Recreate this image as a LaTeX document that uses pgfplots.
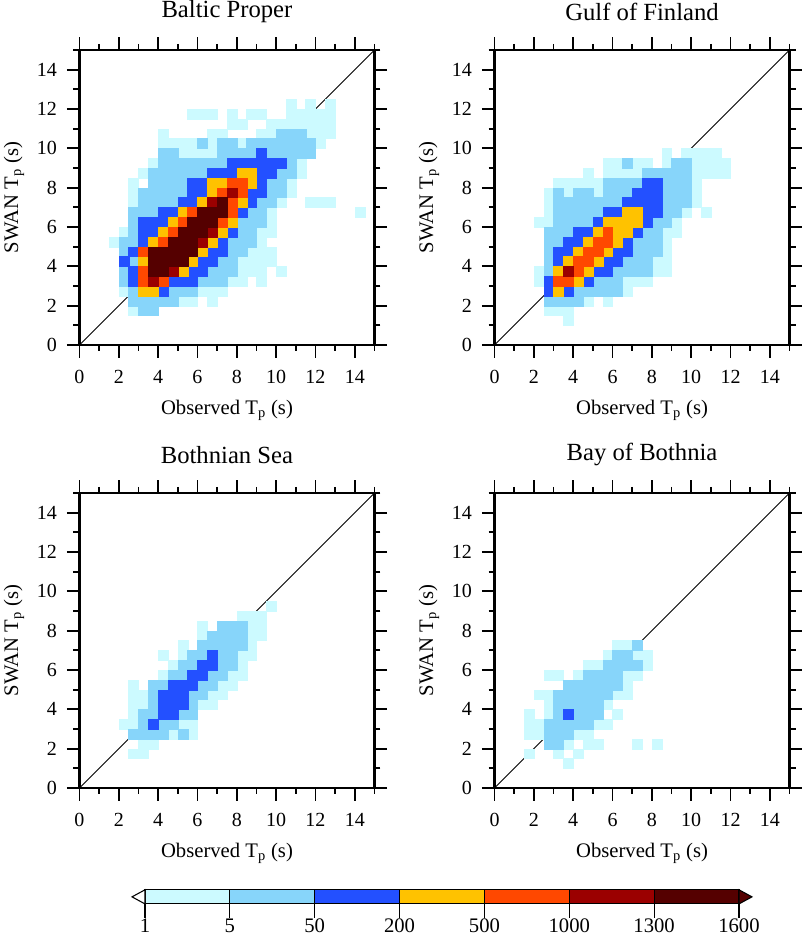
\documentclass[border=0pt]{standalone}
\usepackage{fontspec}
\setmainfont{Liberation Serif}
\usepackage{pgfplots}
\usepackage{pgfplotstable}
\pgfplotsset{compat=1.18}
\definecolor{c1}{RGB}{204,250,255}
\definecolor{c2}{RGB}{135,213,250}
\definecolor{c3}{RGB}{35,80,255}
\definecolor{c4}{RGB}{255,194,0}
\definecolor{c5}{RGB}{255,72,0}
\definecolor{c6}{RGB}{155,0,0}
\definecolor{c7}{RGB}{85,0,0}

% i = x bin index (0.5 s bins), j = y bin index, c = count class (1..7)
\pgfplotstableread[row sep=\\]{
i j c\\
21 24 1\\ 23 24 1\\ 25 24 1\\
11 23 1\\ 12 23 1\\ 13 23 1\\ 15 23 1\\ 17 23 1\\ 18 23 1\\ 21 23 1\\ 22 23 1\\ 23 23 1\\ 24 23 1\\ 25 23 1\\
15 22 1\\ 16 22 1\\ 19 22 1\\ 20 22 1\\ 21 22 1\\ 22 22 1\\ 23 22 1\\ 24 22 1\\ 25 22 1\\
8 21 1\\ 13 21 1\\ 14 21 1\\ 18 21 1\\ 19 21 1\\ 20 21 2\\ 21 21 2\\ 22 21 2\\ 23 21 1\\ 24 21 1\\ 25 21 1\\
8 20 1\\ 9 20 1\\ 10 20 1\\ 11 20 1\\ 12 20 2\\ 13 20 1\\ 14 20 2\\ 15 20 2\\ 16 20 1\\ 17 20 2\\ 18 20 2\\ 19 20 2\\ 20 20 2\\ 21 20 2\\ 22 20 2\\ 23 20 2\\ 24 20 1\\
8 19 2\\ 9 19 2\\ 10 19 1\\ 11 19 1\\ 12 19 1\\ 13 19 1\\ 14 19 2\\ 15 19 2\\ 16 19 2\\ 17 19 2\\ 18 19 3\\ 19 19 2\\ 20 19 2\\ 21 19 2\\ 22 19 2\\ 23 19 2\\
7 18 1\\ 8 18 2\\ 9 18 2\\ 10 18 2\\ 11 18 2\\ 12 18 2\\ 13 18 2\\ 14 18 2\\ 15 18 3\\ 16 18 3\\ 17 18 3\\ 18 18 3\\ 19 18 3\\ 20 18 3\\ 21 18 2\\ 22 18 1\\
6 17 1\\ 7 17 2\\ 8 17 2\\ 9 17 2\\ 10 17 2\\ 11 17 2\\ 12 17 2\\ 13 17 3\\ 14 17 3\\ 15 17 3\\ 16 17 4\\ 17 17 4\\ 18 17 3\\ 19 17 3\\ 20 17 2\\ 21 17 2\\ 22 17 1\\
5 16 1\\ 7 16 2\\ 8 16 2\\ 9 16 2\\ 10 16 2\\ 11 16 3\\ 12 16 3\\ 13 16 4\\ 14 16 4\\ 15 16 5\\ 16 16 5\\ 17 16 4\\ 18 16 3\\ 19 16 2\\ 20 16 2\\ 21 16 1\\
5 15 1\\ 6 15 2\\ 7 15 2\\ 8 15 2\\ 9 15 2\\ 10 15 2\\ 11 15 3\\ 12 15 3\\ 13 15 4\\ 14 15 5\\ 15 15 6\\ 16 15 5\\ 17 15 3\\ 18 15 3\\ 19 15 2\\ 20 15 2\\ 21 15 1\\
5 14 1\\ 6 14 2\\ 7 14 2\\ 8 14 2\\ 9 14 2\\ 10 14 3\\ 11 14 3\\ 12 14 4\\ 13 14 6\\ 14 14 7\\ 15 14 5\\ 16 14 4\\ 17 14 3\\ 18 14 2\\ 19 14 2\\ 20 14 1\\ 23 14 1\\ 24 14 1\\ 25 14 1\\
5 13 2\\ 6 13 2\\ 7 13 2\\ 8 13 3\\ 9 13 3\\ 10 13 4\\ 11 13 5\\ 12 13 7\\ 13 13 7\\ 14 13 7\\ 15 13 5\\ 16 13 3\\ 17 13 2\\ 18 13 2\\ 19 13 1\\ 28 13 1\\
5 12 2\\ 6 12 3\\ 7 12 3\\ 8 12 3\\ 9 12 4\\ 10 12 5\\ 11 12 7\\ 12 12 7\\ 13 12 7\\ 14 12 5\\ 15 12 4\\ 16 12 2\\ 17 12 2\\ 18 12 2\\ 19 12 1\\
4 11 1\\ 5 11 2\\ 6 11 3\\ 7 11 3\\ 8 11 4\\ 9 11 5\\ 10 11 7\\ 11 11 7\\ 12 11 7\\ 13 11 6\\ 14 11 4\\ 15 11 3\\ 16 11 2\\ 17 11 2\\ 18 11 1\\ 19 11 1\\
3 10 1\\ 4 10 2\\ 5 10 2\\ 6 10 3\\ 7 10 4\\ 8 10 5\\ 9 10 7\\ 10 10 7\\ 11 10 7\\ 12 10 6\\ 13 10 4\\ 14 10 3\\ 15 10 2\\ 16 10 2\\ 17 10 2\\ 18 10 1\\
4 9 2\\ 5 9 3\\ 6 9 5\\ 7 9 7\\ 8 9 7\\ 9 9 7\\ 10 9 7\\ 11 9 7\\ 12 9 4\\ 13 9 3\\ 14 9 3\\ 15 9 2\\ 16 9 2\\ 17 9 1\\ 18 9 1\\ 19 9 1\\
4 8 3\\ 5 8 2\\ 6 8 4\\ 7 8 7\\ 8 8 7\\ 9 8 7\\ 10 8 7\\ 11 8 4\\ 12 8 3\\ 13 8 3\\ 14 8 2\\ 15 8 2\\ 16 8 1\\ 17 8 1\\ 18 8 1\\ 19 8 1\\
4 7 2\\ 5 7 3\\ 6 7 5\\ 7 7 7\\ 8 7 7\\ 9 7 6\\ 10 7 4\\ 11 7 3\\ 12 7 3\\ 13 7 2\\ 14 7 2\\ 15 7 2\\ 16 7 1\\ 17 7 1\\ 18 7 1\\ 20 7 1\\
4 6 2\\ 5 6 3\\ 6 6 5\\ 7 6 6\\ 8 6 5\\ 9 6 3\\ 10 6 3\\ 11 6 3\\ 12 6 2\\ 13 6 2\\ 14 6 2\\ 15 6 1\\ 16 6 1\\ 18 6 1\\
4 5 1\\ 5 5 2\\ 6 5 4\\ 7 5 4\\ 8 5 3\\ 9 5 2\\ 10 5 2\\ 11 5 2\\ 12 5 1\\ 13 5 1\\ 14 5 1\\
5 4 2\\ 6 4 2\\ 7 4 2\\ 8 4 2\\ 9 4 2\\ 10 4 1\\ 11 4 1\\ 13 4 1\\
5 3 1\\ 6 3 2\\ 7 3 2\\
}\panelA

\pgfplotstableread[row sep=\\]{
i j c\\
17 19 1\\ 19 19 1\\ 20 19 1\\ 21 19 1\\ 22 19 1\\
11 18 1\\ 12 18 1\\ 13 18 2\\ 14 18 1\\ 15 18 1\\ 17 18 1\\ 18 18 2\\ 19 18 2\\ 20 18 1\\ 21 18 1\\ 22 18 1\\ 23 18 1\\
9 17 1\\ 11 17 1\\ 12 17 1\\ 13 17 1\\ 14 17 1\\ 15 17 2\\ 16 17 2\\ 17 17 2\\ 18 17 2\\ 19 17 2\\ 20 17 1\\ 21 17 1\\ 22 17 1\\ 23 17 1\\
6 16 1\\ 7 16 1\\ 8 16 1\\ 9 16 1\\ 10 16 1\\ 11 16 2\\ 12 16 2\\ 13 16 2\\ 14 16 2\\ 15 16 3\\ 16 16 3\\ 17 16 2\\ 18 16 2\\ 19 16 2\\ 20 16 1\\
5 15 1\\ 6 15 2\\ 7 15 1\\ 8 15 2\\ 9 15 2\\ 10 15 1\\ 11 15 2\\ 12 15 2\\ 13 15 2\\ 14 15 3\\ 15 15 3\\ 16 15 3\\ 17 15 2\\ 18 15 2\\ 19 15 2\\ 20 15 1\\
5 14 1\\ 6 14 2\\ 7 14 2\\ 8 14 2\\ 9 14 2\\ 10 14 2\\ 11 14 2\\ 12 14 2\\ 13 14 3\\ 14 14 3\\ 15 14 3\\ 16 14 3\\ 17 14 2\\ 18 14 2\\ 19 14 2\\ 20 14 1\\
5 13 1\\ 6 13 2\\ 7 13 2\\ 8 13 2\\ 9 13 2\\ 10 13 2\\ 11 13 3\\ 12 13 3\\ 13 13 4\\ 14 13 4\\ 15 13 3\\ 16 13 3\\ 17 13 2\\ 18 13 2\\ 19 13 1\\ 21 13 1\\
4 12 1\\ 5 12 1\\ 6 12 2\\ 7 12 2\\ 8 12 2\\ 9 12 2\\ 10 12 3\\ 11 12 4\\ 12 12 4\\ 13 12 4\\ 14 12 4\\ 15 12 3\\ 16 12 2\\ 17 12 2\\ 18 12 1\\
5 11 2\\ 6 11 2\\ 7 11 2\\ 8 11 3\\ 9 11 3\\ 10 11 4\\ 11 11 5\\ 12 11 4\\ 13 11 4\\ 14 11 3\\ 15 11 2\\ 16 11 2\\ 17 11 1\\ 18 11 1\\
5 10 2\\ 6 10 2\\ 7 10 3\\ 8 10 3\\ 9 10 4\\ 10 10 5\\ 11 10 5\\ 12 10 4\\ 13 10 3\\ 14 10 2\\ 15 10 2\\ 16 10 2\\ 17 10 1\\
5 9 2\\ 6 9 3\\ 7 9 3\\ 8 9 4\\ 9 9 5\\ 10 9 5\\ 11 9 4\\ 12 9 3\\ 13 9 3\\ 14 9 2\\ 15 9 2\\ 16 9 2\\ 17 9 1\\
5 8 2\\ 6 8 3\\ 7 8 4\\ 8 8 5\\ 9 8 5\\ 10 8 4\\ 11 8 3\\ 12 8 3\\ 13 8 2\\ 14 8 2\\ 15 8 2\\ 16 8 1\\ 17 8 1\\
4 7 1\\ 5 7 2\\ 6 7 4\\ 7 7 6\\ 8 7 5\\ 9 7 4\\ 10 7 3\\ 11 7 3\\ 12 7 2\\ 13 7 2\\ 14 7 2\\ 15 7 2\\ 16 7 1\\ 17 7 1\\
4 6 1\\ 5 6 3\\ 6 6 5\\ 7 6 5\\ 8 6 4\\ 9 6 3\\ 10 6 2\\ 11 6 2\\ 12 6 2\\ 13 6 1\\ 14 6 1\\ 15 6 1\\
5 5 3\\ 6 5 4\\ 7 5 3\\ 8 5 2\\ 9 5 2\\ 10 5 2\\ 11 5 2\\ 12 5 2\\ 13 5 1\\
5 4 2\\ 6 4 2\\ 7 4 2\\ 8 4 2\\ 9 4 1\\ 11 4 1\\
5 3 1\\ 6 3 1\\ 7 3 1\\
7 2 1\\
}\panelB

\pgfplotstableread[row sep=\\]{
i j c\\
19 18 1\\
16 17 1\\ 17 17 1\\ 18 17 1\\
12 16 1\\ 14 16 2\\ 15 16 2\\ 16 16 2\\ 17 16 1\\ 18 16 1\\
12 15 1\\ 13 15 2\\ 14 15 2\\ 15 15 2\\ 16 15 2\\ 17 15 1\\ 18 15 1\\
10 14 1\\ 12 14 2\\ 13 14 2\\ 14 14 2\\ 15 14 2\\ 16 14 2\\ 17 14 1\\
8 13 1\\ 10 13 1\\ 11 13 2\\ 12 13 2\\ 13 13 3\\ 14 13 2\\ 15 13 2\\ 16 13 1\\ 17 13 1\\
9 12 1\\ 10 12 2\\ 11 12 2\\ 12 12 3\\ 13 12 3\\ 14 12 2\\ 15 12 2\\ 16 12 1\\
8 11 1\\ 9 11 2\\ 10 11 2\\ 11 11 3\\ 12 11 3\\ 13 11 2\\ 14 11 2\\ 15 11 1\\ 16 11 1\\
5 10 1\\ 7 10 2\\ 8 10 2\\ 9 10 3\\ 10 10 3\\ 11 10 3\\ 12 10 2\\ 13 10 2\\ 14 10 1\\ 15 10 1\\
5 9 1\\ 6 9 1\\ 7 9 2\\ 8 9 3\\ 9 9 3\\ 10 9 3\\ 11 9 2\\ 12 9 2\\ 13 9 1\\ 14 9 1\\
5 8 1\\ 6 8 1\\ 7 8 2\\ 8 8 3\\ 9 8 3\\ 10 8 3\\ 11 8 2\\ 12 8 1\\ 13 8 1\\
5 7 1\\ 6 7 2\\ 7 7 2\\ 8 7 3\\ 9 7 3\\ 10 7 2\\ 11 7 2\\
4 6 1\\ 5 6 1\\ 6 6 2\\ 7 6 3\\ 8 6 2\\ 9 6 2\\ 10 6 1\\ 11 6 1\\
5 5 2\\ 6 5 2\\ 7 5 2\\ 8 5 2\\ 9 5 1\\ 10 5 2\\ 11 5 1\\
6 4 1\\ 7 4 1\\
5 3 1\\ 6 3 1\\
}\panelC

\pgfplotstableread[row sep=\\]{
i j c\\
12 14 1\\ 13 14 1\\ 14 14 2\\
11 13 1\\ 12 13 2\\ 13 13 2\\ 14 13 1\\ 15 13 1\\
9 12 1\\ 10 12 1\\ 11 12 2\\ 12 12 2\\ 13 12 2\\ 14 12 2\\ 15 12 1\\
5 11 1\\ 6 11 1\\ 8 11 1\\ 9 11 2\\ 10 11 2\\ 11 11 2\\ 12 11 2\\ 13 11 1\\ 14 11 1\\
7 10 2\\ 8 10 2\\ 9 10 2\\ 10 10 2\\ 11 10 2\\ 12 10 2\\ 13 10 1\\
4 9 1\\ 5 9 1\\ 6 9 2\\ 7 9 2\\ 8 9 2\\ 9 9 2\\ 10 9 2\\ 11 9 2\\ 12 9 1\\ 13 9 1\\
5 8 1\\ 6 8 2\\ 7 8 2\\ 8 8 2\\ 9 8 2\\ 10 8 2\\ 11 8 1\\
3 7 1\\ 5 7 1\\ 6 7 2\\ 7 7 3\\ 8 7 2\\ 9 7 2\\ 10 7 2\\ 12 7 1\\
3 6 1\\ 4 6 1\\ 5 6 2\\ 6 6 2\\ 7 6 2\\ 8 6 2\\ 9 6 2\\ 10 6 1\\ 11 6 1\\
3 5 1\\ 4 5 1\\ 5 5 2\\ 6 5 2\\ 7 5 2\\ 8 5 1\\ 9 5 1\\
5 4 2\\ 6 4 2\\ 7 4 1\\ 9 4 1\\ 10 4 1\\ 14 4 1\\ 16 4 1\\
3 3 1\\ 6 3 1\\ 8 3 1\\
7 2 1\\
}\panelD

\pgfplotsset{
  hist/.style={
    scale only axis, width=221.25pt, height=221.25pt,
    xmin=0, xmax=15, ymin=0, ymax=15,
    xtick={0,2,...,14}, ytick={0,2,...,14},
    minor xtick={1,3,...,15}, minor ytick={1,3,...,15},
    tick align=outside,
    major tick length=9.5pt, minor tick length=4.5pt,
    axis line style={line width=1.6pt},
    every tick/.style={black, line width=1.3pt},
    tick label style={font=\fontsize{15}{15}\selectfont},
    xticklabel style={yshift=-6pt},
    yticklabel style={xshift=-4pt},
    /pgf/number format/assume math mode=true,
    xlabel={Observed T\textsubscript{p} (s)},
    ylabel={SWAN T\textsubscript{p} (s)},
    label style={font=\fontsize{15.5}{15.5}\selectfont},
    xlabel style={at={(axis description cs:0.5,-0.221)}, anchor=center},
    ylabel style={at={(axis description cs:-0.222,0.5)}, anchor=center},
    every axis title shift=0pt,
    title style={font=\fontsize{18.5}{18.5}\selectfont, at={(axis description cs:0.5,1.129)}, anchor=center},
    axis on top,
  },
  cls/.style={only marks, mark=square*, mark size=3.69pt, color=c#1,
    mark options={line width=0.2pt},
    restrict expr to domain={\thisrow{c}}{#1:#1}},
}
\newcommand\cells[1]{%
  \addplot[cls=1] table[x expr=\thisrow{i}*0.5+0.25, y expr=\thisrow{j}*0.5+0.25] {#1};
  \addplot[cls=2] table[x expr=\thisrow{i}*0.5+0.25, y expr=\thisrow{j}*0.5+0.25] {#1};
  \addplot[cls=3] table[x expr=\thisrow{i}*0.5+0.25, y expr=\thisrow{j}*0.5+0.25] {#1};
  \addplot[cls=4] table[x expr=\thisrow{i}*0.5+0.25, y expr=\thisrow{j}*0.5+0.25] {#1};
  \addplot[cls=5] table[x expr=\thisrow{i}*0.5+0.25, y expr=\thisrow{j}*0.5+0.25] {#1};
  \addplot[cls=6] table[x expr=\thisrow{i}*0.5+0.25, y expr=\thisrow{j}*0.5+0.25] {#1};
  \addplot[cls=7] table[x expr=\thisrow{i}*0.5+0.25, y expr=\thisrow{j}*0.5+0.25] {#1};
  \addplot[black, line width=0.6pt] coordinates {(0,0) (15,15)};
}

\begin{document}
\begin{tikzpicture}
\path[use as bounding box] (0,0) rectangle (600.75pt,704.25pt);

\begin{axis}[hist, at={(59.6pt,445.5pt)}, anchor=south west, title={Baltic Proper}]
\cells{\panelA}
\end{axis}

\begin{axis}[hist, at={(370.9pt,445.5pt)}, anchor=south west, title={Gulf of Finland}]
\cells{\panelB}
\end{axis}

\begin{axis}[hist, at={(59.6pt,113.25pt)}, anchor=south west, title={Bothnian Sea}]
\cells{\panelC}
\end{axis}

\begin{axis}[hist, at={(370.9pt,113.25pt)}, anchor=south west, title={Bay of Bothnia}]
\cells{\panelD}
\end{axis}

% colour bar
\begin{axis}[at={(108.75pt,26.3pt)}, anchor=south west, scale only axis,
  width=445.5pt, height=10.6pt, xmin=0, xmax=7, ymin=0, ymax=1, clip=false,
  axis line style={draw=none}, ytick=\empty, xtick={0,...,7},
  xticklabels={1,5,50,200,500,1000,1300,1600},
  xtick pos=left, tick align=outside, major tick length=10.5pt,
  every tick/.style={black, line width=0.8pt},
  xticklabel style={inner sep=0pt, yshift=-0.5pt},
  tick label style={font=\fontsize{15.5}{15.5}\selectfont}]
\addplot[fill=c1, draw=black, line width=0.8pt] coordinates {(0,0) (1,0) (1,1) (0,1)} -- cycle;
\addplot[fill=c2, draw=black, line width=0.8pt] coordinates {(1,0) (2,0) (2,1) (1,1)} -- cycle;
\addplot[fill=c3, draw=black, line width=0.8pt] coordinates {(2,0) (3,0) (3,1) (2,1)} -- cycle;
\addplot[fill=c4, draw=black, line width=0.8pt] coordinates {(3,0) (4,0) (4,1) (3,1)} -- cycle;
\addplot[fill=c5, draw=black, line width=0.8pt] coordinates {(4,0) (5,0) (5,1) (4,1)} -- cycle;
\addplot[fill=c6, draw=black, line width=0.8pt] coordinates {(5,0) (6,0) (6,1) (5,1)} -- cycle;
\addplot[fill=c7, draw=black, line width=0.8pt] coordinates {(6,0) (7,0) (7,1) (6,1)} -- cycle;
\addplot[fill=white, draw=black, line width=0.8pt] coordinates {(0,0) (-0.153,0.5) (0,1)} -- cycle;
\addplot[fill=c7, draw=black, line width=0.8pt] coordinates {(7,0) (7.153,0.5) (7,1)} -- cycle;
\end{axis}
\end{tikzpicture}
\end{document}
